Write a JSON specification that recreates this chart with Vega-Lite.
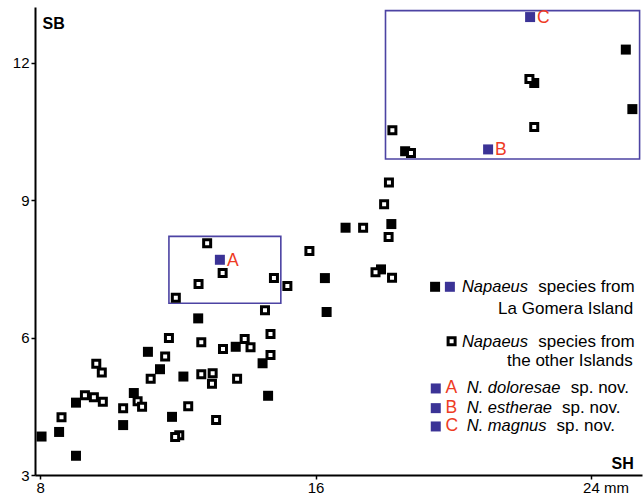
{
  "$schema": "https://vega.github.io/schema/vega-lite/v6.json",
  "width": 607,
  "height": 468,
  "autosize": "none",
  "padding": {"left": 35, "top": 7, "right": 2, "bottom": 21},
  "background": "white",
  "config": {
    "view": {"stroke": null},
    "font": "Liberation Sans",
    "axis": {
      "grid": false,
      "domainColor": "black",
      "domainWidth": 2,
      "tickColor": "black",
      "tickWidth": 1.5,
      "tickSize": 4,
      "labelFont": "Liberation Sans",
      "labelFontSize": 15,
      "labelColor": "black",
      "titleFont": "Liberation Sans",
      "titleFontSize": 16,
      "titleFontWeight": "bold",
      "titleColor": "black"
    }
  },
  "datasets": {
    "pts": [
      {"sh": 8.04, "sb": 3.84, "grp": "gomera"},
      {"sh": 8.55, "sb": 3.94, "grp": "gomera"},
      {"sh": 9.04, "sb": 4.58, "grp": "gomera"},
      {"sh": 9.04, "sb": 3.42, "grp": "gomera"},
      {"sh": 10.41, "sb": 4.09, "grp": "gomera"},
      {"sh": 10.72, "sb": 4.79, "grp": "gomera"},
      {"sh": 11.13, "sb": 5.69, "grp": "gomera"},
      {"sh": 11.48, "sb": 5.31, "grp": "gomera"},
      {"sh": 11.83, "sb": 4.27, "grp": "gomera"},
      {"sh": 12.16, "sb": 5.15, "grp": "gomera"},
      {"sh": 12.59, "sb": 6.42, "grp": "gomera"},
      {"sh": 13.68, "sb": 5.80, "grp": "gomera"},
      {"sh": 14.46, "sb": 5.44, "grp": "gomera"},
      {"sh": 14.62, "sb": 4.73, "grp": "gomera"},
      {"sh": 16.27, "sb": 7.30, "grp": "gomera"},
      {"sh": 16.32, "sb": 6.56, "grp": "gomera"},
      {"sh": 16.87, "sb": 8.40, "grp": "gomera"},
      {"sh": 17.90, "sb": 7.49, "grp": "gomera"},
      {"sh": 18.20, "sb": 8.48, "grp": "gomera"},
      {"sh": 18.60, "sb": 10.07, "grp": "gomera"},
      {"sh": 22.35, "sb": 11.56, "grp": "gomera"},
      {"sh": 25.01, "sb": 12.29, "grp": "gomera"},
      {"sh": 25.20, "sb": 10.99, "grp": "gomera"},
      {"sh": 8.62, "sb": 4.26, "grp": "other"},
      {"sh": 9.30, "sb": 4.74, "grp": "other"},
      {"sh": 9.56, "sb": 4.70, "grp": "other"},
      {"sh": 9.63, "sb": 5.43, "grp": "other"},
      {"sh": 9.79, "sb": 5.24, "grp": "other"},
      {"sh": 9.82, "sb": 4.60, "grp": "other"},
      {"sh": 10.41, "sb": 4.46, "grp": "other"},
      {"sh": 10.83, "sb": 4.61, "grp": "other"},
      {"sh": 10.96, "sb": 4.49, "grp": "other"},
      {"sh": 11.21, "sb": 5.10, "grp": "other"},
      {"sh": 11.63, "sb": 5.59, "grp": "other"},
      {"sh": 11.74, "sb": 5.99, "grp": "other"},
      {"sh": 12.04, "sb": 3.87, "grp": "other"},
      {"sh": 11.92, "sb": 3.83, "grp": "other"},
      {"sh": 12.30, "sb": 4.50, "grp": "other"},
      {"sh": 12.68, "sb": 5.90, "grp": "other"},
      {"sh": 12.68, "sb": 5.20, "grp": "other"},
      {"sh": 13.01, "sb": 5.22, "grp": "other"},
      {"sh": 12.99, "sb": 4.99, "grp": "other"},
      {"sh": 13.11, "sb": 4.20, "grp": "other"},
      {"sh": 13.31, "sb": 5.75, "grp": "other"},
      {"sh": 13.72, "sb": 5.10, "grp": "other"},
      {"sh": 13.94, "sb": 5.97, "grp": "other"},
      {"sh": 14.11, "sb": 5.79, "grp": "other"},
      {"sh": 14.69, "sb": 6.08, "grp": "other"},
      {"sh": 14.69, "sb": 5.62, "grp": "other"},
      {"sh": 14.53, "sb": 6.60, "grp": "other"},
      {"sh": 14.79, "sb": 7.30, "grp": "other"},
      {"sh": 15.18, "sb": 7.13, "grp": "other"},
      {"sh": 15.82, "sb": 7.89, "grp": "other"},
      {"sh": 17.38, "sb": 8.40, "grp": "other"},
      {"sh": 17.74, "sb": 7.43, "grp": "other"},
      {"sh": 18.13, "sb": 9.39, "grp": "other"},
      {"sh": 17.99, "sb": 8.91, "grp": "other"},
      {"sh": 18.12, "sb": 8.20, "grp": "other"},
      {"sh": 18.22, "sb": 7.31, "grp": "other"},
      {"sh": 18.23, "sb": 10.53, "grp": "other"},
      {"sh": 18.77, "sb": 10.03, "grp": "other"},
      {"sh": 22.21, "sb": 11.65, "grp": "other"},
      {"sh": 22.35, "sb": 10.60, "grp": "other"},
      {"sh": 12.85, "sb": 8.06, "grp": "other"},
      {"sh": 13.30, "sb": 7.41, "grp": "other"},
      {"sh": 12.60, "sb": 7.17, "grp": "other"},
      {"sh": 11.94, "sb": 6.87, "grp": "other"},
      {"sh": 13.22, "sb": 7.70, "grp": "new", "lab": "A"},
      {"sh": 21.01, "sb": 10.11, "grp": "new", "lab": "B"},
      {"sh": 22.23, "sb": 13.00, "grp": "new", "lab": "C"}
    ],
    "boxes": [
      {"sh": 11.74, "sh2": 14.99, "sb": 8.21, "sb2": 6.75},
      {"sh": 18.03, "sh2": 25.41, "sb": 13.14, "sb2": 9.90}
    ],
    "legend": [
      {"sh": 19.47, "sb": 7.11, "kind": "black"},
      {"sh": 19.90, "sb": 7.11, "kind": "blue"},
      {"sh": 19.95, "sb": 5.92, "kind": "open"},
      {"sh": 19.49, "sb": 4.89, "kind": "blue"},
      {"sh": 19.49, "sb": 4.46, "kind": "blue"},
      {"sh": 19.49, "sb": 4.06, "kind": "blue"},
      {"sh": 20.25, "sb": 7.11, "kind": "italic", "txt": "Napaeus"},
      {"sh": 22.47, "sb": 7.11, "kind": "text", "txt": "species from"},
      {"sh": 21.30, "sb": 6.63, "kind": "text", "txt": "La Gomera Island"},
      {"sh": 20.25, "sb": 5.91, "kind": "italic", "txt": "Napaeus"},
      {"sh": 22.47, "sb": 5.91, "kind": "text", "txt": "species from"},
      {"sh": 21.56, "sb": 5.50, "kind": "text", "txt": "the other Islands"},
      {"sh": 19.77, "sb": 4.89, "kind": "red", "txt": "A"},
      {"sh": 20.39, "sb": 4.89, "kind": "italic", "txt": "N. doloresae"},
      {"sh": 23.41, "sb": 4.89, "kind": "text", "txt": "sp. nov."},
      {"sh": 19.77, "sb": 4.46, "kind": "red", "txt": "B"},
      {"sh": 20.39, "sb": 4.46, "kind": "italic", "txt": "N. estherae"},
      {"sh": 23.16, "sb": 4.46, "kind": "text", "txt": "sp. nov."},
      {"sh": 19.77, "sb": 4.06, "kind": "red", "txt": "C"},
      {"sh": 20.39, "sb": 4.06, "kind": "italic", "txt": "N. magnus"},
      {"sh": 23.00, "sb": 4.06, "kind": "text", "txt": "sp. nov."}
    ]
  },
  "encoding": {
    "x": {
      "field": "sh", "type": "quantitative",
      "scale": {"domain": [7.85, 25.48], "nice": false, "zero": false},
      "axis": {
        "values": [8, 16, 24],
        "labelExpr": "datum.value == 24 ? '24 mm' : datum.label",
        "labelOffset": {"condition": {"test": "datum.value == 24", "value": 14.5}, "value": 0},
        "labelPadding": 1,
        "title": "SH",
        "titleAngle": 0,
        "titleAlign": "left",
        "titleBaseline": "middle",
        "titleX": 576,
        "titleY": -12
      }
    },
    "y": {
      "field": "sb", "type": "quantitative",
      "scale": {"domain": [3, 13.22], "nice": false, "zero": false},
      "axis": {
        "values": [3, 6, 9, 12],
        "labelPadding": 2,
        "title": "SB",
        "titleAngle": 0,
        "titleAlign": "left",
        "titleBaseline": "middle",
        "titleX": 7,
        "titleY": 16
      }
    }
  },
  "layer": [
    {
      "data": {"name": "boxes"},
      "mark": {"type": "rect", "filled": false, "stroke": "#4c43a3", "strokeWidth": 1.6},
      "encoding": {
        "x2": {"field": "sh2"},
        "y2": {"field": "sb2"}
      }
    },
    {
      "data": {"name": "pts"},
      "transform": [{"filter": "datum.grp == 'gomera'"}],
      "mark": {"type": "point", "shape": "square", "filled": true, "color": "black", "opacity": 1, "size": 100}
    },
    {
      "data": {"name": "pts"},
      "transform": [{"filter": "datum.grp == 'other'"}],
      "mark": {"type": "point", "shape": "square", "fill": "white", "stroke": "black", "strokeWidth": 3, "opacity": 1, "fillOpacity": 1, "size": 49}
    },
    {
      "data": {"name": "pts"},
      "transform": [{"filter": "datum.grp == 'new'"}],
      "mark": {"type": "point", "shape": "square", "filled": true, "color": "#3b3396", "opacity": 1, "size": 100}
    },
    {
      "data": {"name": "pts"},
      "transform": [{"filter": "datum.grp == 'new'"}],
      "mark": {"type": "text", "align": "left", "baseline": "middle", "dx": 7, "dy": 1, "fontSize": 17.5, "color": "#ee3b24", "font": "Liberation Sans"},
      "encoding": {"text": {"field": "lab"}}
    },
    {
      "data": {"name": "legend"},
      "transform": [{"filter": "datum.kind == 'black'"}],
      "mark": {"type": "point", "shape": "square", "filled": true, "color": "black", "opacity": 1, "size": 100}
    },
    {
      "data": {"name": "legend"},
      "transform": [{"filter": "datum.kind == 'blue'"}],
      "mark": {"type": "point", "shape": "square", "filled": true, "color": "#3b3396", "opacity": 1, "size": 100}
    },
    {
      "data": {"name": "legend"},
      "transform": [{"filter": "datum.kind == 'open'"}],
      "mark": {"type": "point", "shape": "square", "fill": "white", "stroke": "black", "strokeWidth": 3, "opacity": 1, "fillOpacity": 1, "size": 49}
    },
    {
      "data": {"name": "legend"},
      "transform": [{"filter": "datum.kind == 'text'"}],
      "mark": {"type": "text", "align": "left", "baseline": "middle", "fontSize": 17, "color": "black", "font": "Liberation Sans"},
      "encoding": {"text": {"field": "txt"}}
    },
    {
      "data": {"name": "legend"},
      "transform": [{"filter": "datum.kind == 'italic'"}],
      "mark": {"type": "text", "align": "left", "baseline": "middle", "fontSize": 16.5, "fontStyle": "italic", "color": "black", "font": "Liberation Sans"},
      "encoding": {"text": {"field": "txt"}}
    },
    {
      "data": {"name": "legend"},
      "transform": [{"filter": "datum.kind == 'red'"}],
      "mark": {"type": "text", "align": "left", "baseline": "middle", "fontSize": 17.5, "color": "#ee3b24", "font": "Liberation Sans"},
      "encoding": {"text": {"field": "txt"}}
    }
  ]
}
